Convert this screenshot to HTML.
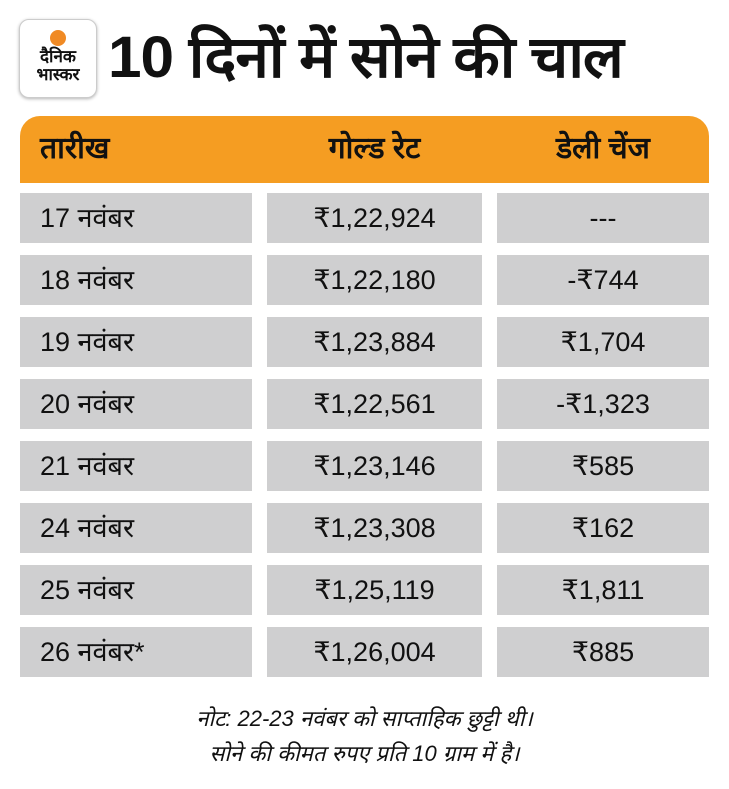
<!DOCTYPE html>
<html><head><meta charset="utf-8"><style>
body{margin:0;width:729px;height:789px;background:#fff;font-family:"Liberation Sans",sans-serif;position:relative;overflow:hidden;color:#111}
.logo{position:absolute;left:19px;top:19px;width:76px;height:77px;border-radius:10px;border:1px solid #ccc;box-shadow:0 1px 3px rgba(0,0,0,.3);background:#fff;text-align:center}
.logo .dot{width:16px;height:16px;border-radius:50%;background:#f08a24;margin:10px auto 2px}
.logo .t{font-size:17px;font-weight:bold;line-height:18px}
h1{position:absolute;left:108px;top:18px;margin:0;font-size:58px;font-weight:bold;line-height:80px;letter-spacing:-1px;transform:scaleX(1.04);transform-origin:left;white-space:nowrap}
.hdr{position:absolute;left:20px;top:116px;width:689px;height:67px;background:#f59d22;border-radius:20px 20px 0 0}
.hdr div,.c{position:absolute;font-size:27px;line-height:50px}
.hdr div{font-weight:bold;top:8px;font-size:30px}
.c{background:#cfcfd0;height:50px}
.c1{left:20px;width:232px;padding-left:20px;box-sizing:border-box}
.c2{left:267px;width:215px;text-align:center}
.c3{left:497px;width:212px;text-align:center}
.note{position:absolute;left:0;width:729px;text-align:center;font-style:italic;font-size:22px}
</style></head><body>
<div class="logo"><div class="dot"></div><div class="t">दैनिक<br>भास्कर</div></div>
<h1>10 दिनों में सोने की चाल</h1>
<div class="hdr"><div style="left:20px">तारीख</div><div style="left:247px;width:215px;text-align:center">गोल्ड रेट</div><div style="left:477px;width:212px;text-align:center">डेली चेंज</div></div>
<div class="c c1" style="top:193px">17 नवंबर</div><div class="c c2" style="top:193px">₹1,22,924</div><div class="c c3" style="top:193px">---</div>
<div class="c c1" style="top:255px">18 नवंबर</div><div class="c c2" style="top:255px">₹1,22,180</div><div class="c c3" style="top:255px">-₹744</div>
<div class="c c1" style="top:317px">19 नवंबर</div><div class="c c2" style="top:317px">₹1,23,884</div><div class="c c3" style="top:317px">₹1,704</div>
<div class="c c1" style="top:379px">20 नवंबर</div><div class="c c2" style="top:379px">₹1,22,561</div><div class="c c3" style="top:379px">-₹1,323</div>
<div class="c c1" style="top:441px">21 नवंबर</div><div class="c c2" style="top:441px">₹1,23,146</div><div class="c c3" style="top:441px">₹585</div>
<div class="c c1" style="top:503px">24 नवंबर</div><div class="c c2" style="top:503px">₹1,23,308</div><div class="c c3" style="top:503px">₹162</div>
<div class="c c1" style="top:565px">25 नवंबर</div><div class="c c2" style="top:565px">₹1,25,119</div><div class="c c3" style="top:565px">₹1,811</div>
<div class="c c1" style="top:627px">26 नवंबर*</div><div class="c c2" style="top:627px">₹1,26,004</div><div class="c c3" style="top:627px">₹885</div>
<div class="note" style="top:703px">नोट: 22-23 नवंबर को साप्ताहिक छुट्टी थी।</div>
<div class="note" style="top:738px">सोने की कीमत रुपए प्रति 10 ग्राम में है।</div>
</body></html>
